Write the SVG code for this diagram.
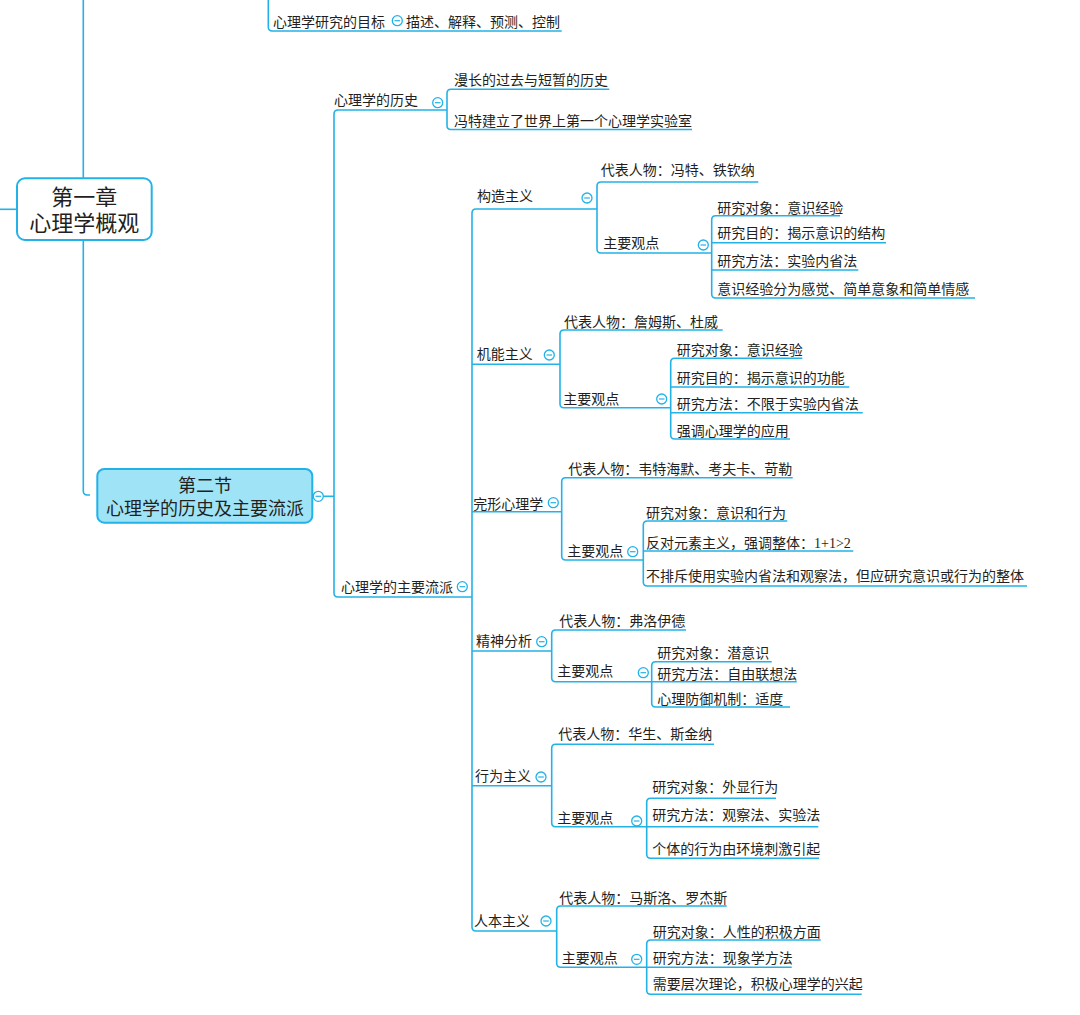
<svg xmlns="http://www.w3.org/2000/svg" width="1080" height="1015" viewBox="0 0 1080 1015">
<defs>
<style>
.bg{fill:#ffffff}
.ln{fill:none;stroke:#22b2e8;stroke-width:1.6;stroke-linecap:butt}
.t{font-family:"Liberation Serif","Noto Sans CJK SC",serif;font-size:14px;fill:#231f20}
.r{font-family:"Liberation Serif","Noto Sans CJK SC",serif;font-size:22px;fill:#231f20;text-anchor:middle}
.s{font-family:"Liberation Serif","Noto Sans CJK SC",serif;font-size:18px;fill:#231f20;text-anchor:middle}
.root{fill:#ffffff;stroke:#22b2e8;stroke-width:2}
.sec{fill:#9fe3f7;stroke:#22b2e8;stroke-width:2}
.cc{fill:#ffffff;stroke:#22b2e8;stroke-width:1.3}
.cm{stroke:#22b2e8;stroke-width:1.2}
</style>
<g id="col">
<circle class="cc" cx="0" cy="0" r="5"/>
<line class="cm" x1="-2.8" y1="0" x2="2.8" y2="0"/>
</g>
</defs>
<rect class="bg" x="0" y="0" width="1080" height="1015"/>

<g id="connectors">
<path class="ln" d="M83.3,0 V178.3"/>
<path class="ln" d="M83.3,240 V491 Q83.3,495 87.3,495 H90"/>
<path class="ln" d="M0,209.3 H17"/>
<path class="ln" d="M268.3,0 V27 Q268.3,31 272.3,31 H561.7"/>
<path class="ln" d="M323.3,496.3 H334"/>
<path class="ln" d="M447,110 H338 Q334,110 334,114 V593 Q334,597 338,597 H472"/>
<path class="ln" d="M609.3,89.3 H451 Q447,89.3 447,93.3 V125.5 Q447,129.5 451,129.5 H692"/>
<path class="ln" d="M597,209 H476 Q472,209 472,213 V927 Q472,931 476,931 H556.7"/>
<path class="ln" d="M472,364.3 H560 M472,511.7 H561.7 M472,651 H551.7 M472,785.7 H551.7"/>
<path class="ln" d="M758.3,182 H601 Q597,182 597,186 V249 Q597,253 601,253 H711.7"/>
<path class="ln" d="M840,215.7 H715.7 Q711.7,215.7 711.7,219.7 V294 Q711.7,298 715.7,298 H975 M711.7,242.7 H886 M711.7,270 H858.3"/>
<path class="ln" d="M722.7,330 H564 Q560,330 560,334 V403.7 Q560,407.7 564,407.7 H670.7"/>
<path class="ln" d="M802.3,358.3 H674.7 Q670.7,358.3 670.7,362.3 V435 Q670.7,439 674.7,439 H790 M670.7,387 H849.3 M670.7,412.7 H862.7"/>
<path class="ln" d="M792.7,477.7 H565.7 Q561.7,477.7 561.7,481.7 V556 Q561.7,560 565.7,560 H643.3"/>
<path class="ln" d="M787.3,521 H647.3 Q643.3,521 643.3,525 V582 Q643.3,586 647.3,586 H1027 M643.3,551 H853.3"/>
<path class="ln" d="M686,630 H555.7 Q551.7,630 551.7,634 V677.7 Q551.7,681.7 555.7,681.7 H651.7"/>
<path class="ln" d="M771.7,661.7 H655.7 Q651.7,661.7 651.7,665.7 V703 Q651.7,707 655.7,707 H790 M651.7,681.7 H796.7"/>
<path class="ln" d="M714,744.3 H555.7 Q551.7,744.3 551.7,748.3 V822.7 Q551.7,826.7 555.7,826.7 H646.7"/>
<path class="ln" d="M776,798.3 H650.7 Q646.7,798.3 646.7,802.3 V854.3 Q646.7,858.3 650.7,858.3 H819 M646.7,826.7 H818.3"/>
<path class="ln" d="M726.7,906 H560.7 Q556.7,906 556.7,910 V963.3 Q556.7,967.3 560.7,967.3 H646.7"/>
<path class="ln" d="M820.7,940 H650.7 Q646.7,940 646.7,944 V990.3 Q646.7,994.3 650.7,994.3 H861.7 M646.7,967.3 H791.7"/>
</g>

<g id="node-goal">
<text class="t" x="273" y="27">心理学研究的目标</text>
<use href="#col" x="397.3" y="20.7"/>
</g>
<g id="node-goal-detail"><text class="t" x="406" y="27">描述、解释、预测、控制</text></g>

<g id="node-root">
<rect class="root" x="17" y="178.3" width="134.7" height="61.7" rx="8"/>
<text class="r" x="84.3" y="205.4">第一章</text>
<text class="r" x="84.3" y="231">心理学概观</text>
</g>

<g id="node-section2">
<rect class="sec" x="97.3" y="469" width="215" height="53.7" rx="7"/>
<text class="s" x="205" y="492.3">第二节</text>
<text class="s" x="205" y="514.8">心理学的历史及主要流派</text>
<use href="#col" x="318.3" y="496.3"/>
</g>

<g id="node-history">
<text class="t" x="334" y="105.3">心理学的历史</text>
<use href="#col" x="437.7" y="102.7"/>
</g>
<g id="node-history-1"><text class="t" x="454" y="84.6">漫长的过去与短暂的历史</text></g>
<g id="node-history-2"><text class="t" x="454" y="126">冯特建立了世界上第一个心理学实验室</text></g>

<g id="node-schools">
<text class="t" x="341" y="592">心理学的主要流派</text>
<use href="#col" x="462.3" y="586.7"/>
</g>

<g id="node-structuralism">
<text class="t" x="477" y="201.3">构造主义</text>
<use href="#col" x="587" y="198"/>
</g>
<g id="node-structuralism-rep"><text class="t" x="600.7" y="175.3">代表人物：冯特、铁钦纳</text></g>
<g id="node-structuralism-views">
<text class="t" x="603.3" y="247.8">主要观点</text>
<use href="#col" x="703.3" y="245"/>
</g>
<g id="node-s-v1"><text class="t" x="717.3" y="212.8">研究对象：意识经验</text></g>
<g id="node-s-v2"><text class="t" x="717.3" y="238.3">研究目的：揭示意识的结构</text></g>
<g id="node-s-v3"><text class="t" x="717.3" y="266.3">研究方法：实验内省法</text></g>
<g id="node-s-v4"><text class="t" x="717.3" y="294.3">意识经验分为感觉、简单意象和简单情感</text></g>

<g id="node-functionalism">
<text class="t" x="476.7" y="359.3">机能主义</text>
<use href="#col" x="549.3" y="355"/>
</g>
<g id="node-functionalism-rep"><text class="t" x="564" y="327.3">代表人物：詹姆斯、杜威</text></g>
<g id="node-functionalism-views">
<text class="t" x="563.3" y="403.8">主要观点</text>
<use href="#col" x="661.7" y="399"/>
</g>
<g id="node-f-v1"><text class="t" x="676.7" y="355">研究对象：意识经验</text></g>
<g id="node-f-v2"><text class="t" x="676.7" y="382.8">研究目的：揭示意识的功能</text></g>
<g id="node-f-v3"><text class="t" x="676.7" y="409.3">研究方法：不限于实验内省法</text></g>
<g id="node-f-v4"><text class="t" x="676.7" y="436.3">强调心理学的应用</text></g>

<g id="node-gestalt">
<text class="t" x="473.3" y="508.6">完形心理学</text>
<use href="#col" x="553.3" y="502.7"/>
</g>
<g id="node-gestalt-rep"><text class="t" x="568.3" y="474.3">代表人物：韦特海默、考夫卡、苛勒</text></g>
<g id="node-gestalt-views">
<text class="t" x="567.3" y="556">主要观点</text>
<use href="#col" x="632.7" y="551.7"/>
</g>
<g id="node-g-v1"><text class="t" x="646" y="517.6">研究对象：意识和行为</text></g>
<g id="node-g-v2"><text class="t" x="646" y="547.6">反对元素主义，强调整体：1+1&gt;2</text></g>
<g id="node-g-v3"><text class="t" x="646" y="581">不排斥使用实验内省法和观察法，但应研究意识或行为的整体</text></g>

<g id="node-psychoanalysis">
<text class="t" x="476" y="646.3">精神分析</text>
<use href="#col" x="541.7" y="641.7"/>
</g>
<g id="node-psychoanalysis-rep"><text class="t" x="559.3" y="626.3">代表人物：弗洛伊德</text></g>
<g id="node-psychoanalysis-views">
<text class="t" x="557.3" y="675.8">主要观点</text>
<use href="#col" x="643.3" y="672.7"/>
</g>
<g id="node-p-v1"><text class="t" x="657.3" y="657.8">研究对象：潜意识</text></g>
<g id="node-p-v2"><text class="t" x="657.3" y="679.3">研究方法：自由联想法</text></g>
<g id="node-p-v3"><text class="t" x="657.3" y="704.3">心理防御机制：适度</text></g>

<g id="node-behaviorism">
<text class="t" x="475" y="781.3">行为主义</text>
<use href="#col" x="541" y="777"/>
</g>
<g id="node-behaviorism-rep"><text class="t" x="558.3" y="739.3">代表人物：华生、斯金纳</text></g>
<g id="node-behaviorism-views">
<text class="t" x="557.3" y="822.8">主要观点</text>
<use href="#col" x="636.7" y="821"/>
</g>
<g id="node-b-v1"><text class="t" x="652.3" y="792">研究对象：外显行为</text></g>
<g id="node-b-v2"><text class="t" x="652.3" y="820.3">研究方法：观察法、实验法</text></g>
<g id="node-b-v3"><text class="t" x="652.3" y="853.6">个体的行为由环境刺激引起</text></g>

<g id="node-humanism">
<text class="t" x="474" y="925.8">人本主义</text>
<use href="#col" x="546" y="921"/>
</g>
<g id="node-humanism-rep"><text class="t" x="559.3" y="902.8">代表人物：马斯洛、罗杰斯</text></g>
<g id="node-humanism-views">
<text class="t" x="561.7" y="962.8">主要观点</text>
<use href="#col" x="636.7" y="959.3"/>
</g>
<g id="node-h-v1"><text class="t" x="652.7" y="936.6">研究对象：人性的积极方面</text></g>
<g id="node-h-v2"><text class="t" x="652.7" y="962.8">研究方法：现象学方法</text></g>
<g id="node-h-v3"><text class="t" x="652.7" y="989.3">需要层次理论，积极心理学的兴起</text></g>
</svg>
